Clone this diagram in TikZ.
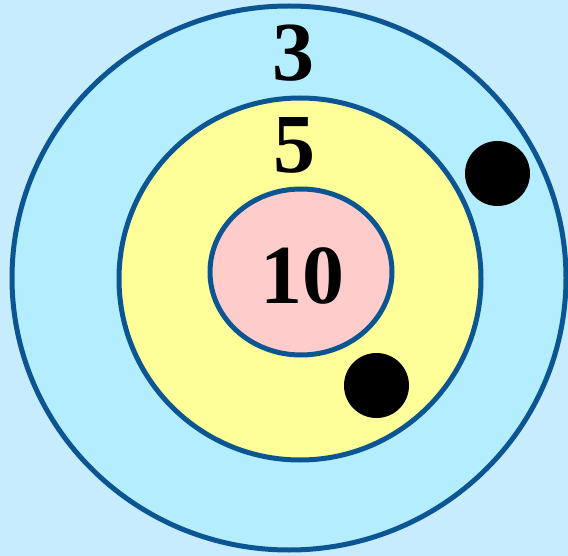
\documentclass[tikz,border=0pt]{standalone}
\usepackage{fontspec}
\setmainfont{Liberation Serif}
\usetikzlibrary{shapes.geometric}
\definecolor{bgblue}{HTML}{C6ECFD}
\definecolor{ringblue}{HTML}{B3EDFE}
\definecolor{ringyellow}{HTML}{FFFF99}
\definecolor{ringpink}{HTML}{FFCCCC}
\definecolor{edgeblue}{HTML}{0B5592}
\tikzset{
  ring/.style={draw=edgeblue, line width=5pt, ellipse, inner sep=0pt},
  hole/.style={circle, fill=black, inner sep=0pt, minimum size=65pt},
  score/.style={font=\fontsize{84}{84}\selectfont\bfseries, inner sep=0pt, anchor=base}
}
\begin{document}
\begin{tikzpicture}[x=1pt,y=-1pt]
\fill[bgblue] (0,0) rectangle (568,556);
\useasboundingbox (0,0) rectangle (568,556);
\node[ring, fill=ringblue, minimum width=554pt, minimum height=544pt] (outer) at (289,278) {};
\node[ring, fill=ringyellow, minimum width=362pt, minimum height=362pt] (middle) at (300,279) {};
\node[ring, fill=ringpink, minimum width=182pt, minimum height=166pt] (inner) at (301,272) {};
\node[hole] (dotA) at (497.5,173.5) {};
\node[hole] (dotB) at (376.5,385.5) {};
\node[score] (s3) at (293,81) {3};
\node[score] (s5) at (294,173) {5};
\node[score] (s10) at (302,304) {10};
\end{tikzpicture}
\end{document}
